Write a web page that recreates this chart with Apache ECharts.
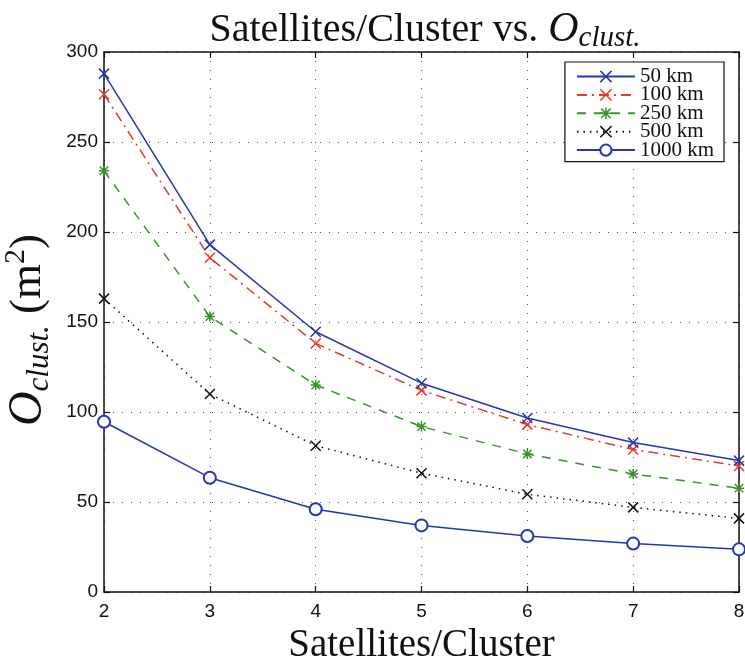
<!DOCTYPE html>
<html><head><meta charset="utf-8">
<script src="https://cdn.jsdelivr.net/npm/echarts@6/dist/echarts.min.js"></script>
<style>html,body{margin:0;padding:0;background:#fff}#c{width:745px;height:666px}</style>
</head><body><div id="c"></div>
<script>
// ---- data ----
const satellites = [2, 3, 4, 5, 6, 7, 8];
const seriesNames = ['50 km', '100 km', '250 km', '500 km', '1000 km'];
const o50   = [288, 193, 144.6, 116, 96.7, 83, 73];
const o100  = [276.5, 185.7, 138.1, 112, 93, 79.2, 70];
const o250  = [234, 153, 115, 91.9, 76.7, 65.6, 57.7];
const o500  = [163, 110, 81.3, 66, 54.3, 47, 40.9];
const o1000 = [94.6, 63.5, 46, 37, 31.1, 26.9, 23.7];
const xTicks = [2, 3, 4, 5, 6, 7, 8];
const yTicks = [0, 50, 100, 150, 200, 250, 300];

const SERIF = '"Liberation Serif", "Times New Roman", serif';
const SANS = '"Liberation Sans", Arial, sans-serif';
const BLUE = '#2536b0', RED = '#e8382a', GREEN = '#3a912c', BLACK = '#111111';
const XMARK = 'path://M0 0L10 10M10 0L0 10';
const STAR = 'path://M0 0L10 10M10 0L0 10M5 -1L5 11M-1 5L11 5';

const styles = [
  {color: BLUE,  type: 'solid',        symbol: XMARK, size: 10},
  {color: RED,   type: [10, 5, 2, 5],  symbol: XMARK, size: 10},
  {color: GREEN, type: [9, 8],         symbol: STAR,  size: 10},
  {color: BLACK, type: [1.5, 5],       symbol: XMARK, size: 10},
  {color: BLUE,  type: 'solid',        symbol: 'emptyCircle', size: 12}
];
const values = [o50, o100, o250, o500, o1000];

const chart = echarts.init(document.getElementById('c'), null, {renderer: 'canvas'});

const xMin = xTicks[0], xMax = xTicks[xTicks.length - 1], xInt = xTicks[1] - xTicks[0];
const yMin = yTicks[0], yMax = yTicks[yTicks.length - 1], yInt = yTicks[1] - yTicks[0];

const gridLine = {show: true, lineStyle: {color: '#555', width: 1, type: [1, 8]}};
const axisLine = {show: true, onZero: false, lineStyle: {color: '#111', width: 1.5}};
const tick = {show: true, inside: true, length: 6, lineStyle: {color: '#111', width: 1.2}};

chart.setOption({
  backgroundColor: '#ffffff',
  animation: false,
  title: {
    text: '{a|Satellites/Cluster vs. }{o|O}{s|clust.}',
    left: 420, top: 2, textAlign: 'center',
    textStyle: {
      fontWeight: 'normal',
      rich: {
        a: {fontFamily: SERIF, fontWeight: 'normal', fontSize: 40, color: '#111', lineHeight: 46},
        o: {fontFamily: SERIF, fontWeight: 'normal', fontStyle: 'italic', fontSize: 42, color: '#111', lineHeight: 46},
        s: {fontFamily: SERIF, fontWeight: 'normal', fontStyle: 'italic', fontSize: 29, color: '#111', lineHeight: 22, verticalAlign: 'bottom'}
      }
    }
  },
  legend: {
    orient: 'vertical',
    right: 21, top: 62,
    data: seriesNames,
    backgroundColor: '#fff',
    borderColor: '#111', borderWidth: 1.2, borderRadius: 0,
    padding: [4, 10, 1, 11],
    itemWidth: 58, itemHeight: 14, itemGap: -2.6,
    itemStyle: {borderWidth: 1.5},
    textStyle: {fontFamily: SERIF, fontSize: 21, color: '#111', padding: [0, 0, 0, 0], lineHeight: 14},
    selectedMode: false
  },
  grid: {left: 104, right: 6, top: 52, bottom: 74, containLabel: false, outerBoundsMode: 'none'},
  xAxis: [{
    type: 'value', min: xMin, max: xMax, interval: xInt,
    name: 'Satellites/Cluster', nameLocation: 'middle', nameGap: 34,
    nameTextStyle: {fontFamily: SERIF, fontSize: 39, color: '#111'},
    axisLine: axisLine, axisTick: tick, splitLine: gridLine,
    axisLabel: {fontFamily: SANS, fontSize: 19, color: '#111', margin: 10}
  }, {
    type: 'value', position: 'top', min: xMin, max: xMax, interval: xInt,
    axisLine: axisLine, axisTick: tick, splitLine: {show: false}, axisLabel: {show: false}
  }],
  yAxis: [{
    type: 'value', min: yMin, max: yMax, interval: yInt,
    name: '{o|O}{s|clust.}{p| (m}{u|2}{p|)}', nameLocation: 'middle', nameRotate: 90, nameGap: 37,
    nameTextStyle: {
      padding: [0, 16, 0, 0],
      rich: {
        o: {fontFamily: SERIF, fontStyle: 'italic', fontSize: 48, color: '#111', lineHeight: 54},
        s: {fontFamily: SERIF, fontStyle: 'italic', fontSize: 31, color: '#111', lineHeight: 26, verticalAlign: 'bottom'},
        p: {fontFamily: SERIF, fontSize: 45, color: '#111', lineHeight: 54},
        u: {fontFamily: SERIF, fontSize: 30, color: '#111', lineHeight: 30, verticalAlign: 'top'}
      }
    },
    axisLine: axisLine, axisTick: tick, splitLine: gridLine,
    axisLabel: {fontFamily: SANS, fontSize: 19, color: '#111', margin: 6}
  }, {
    type: 'value', position: 'right', min: yMin, max: yMax, interval: yInt,
    axisLine: axisLine, axisTick: tick, splitLine: {show: false}, axisLabel: {show: false}
  }],
  series: seriesNames.map((name, k) => ({
    name: name,
    type: 'line',
    xAxisIndex: 0, yAxisIndex: 0,
    data: satellites.map((x, i) => [x, values[k][i]]),
    symbol: styles[k].symbol,
    symbolSize: styles[k].size,
    showAllSymbol: true,
    clip: false,
    z: k === 0 ? 12 : 10,
    lineStyle: {color: styles[k].color, width: 1.5, type: styles[k].type},
    itemStyle: {color: styles[k].color, borderColor: styles[k].color, borderWidth: 1.5},
    emphasis: {disabled: true}
  }))
});
</script></body></html>
